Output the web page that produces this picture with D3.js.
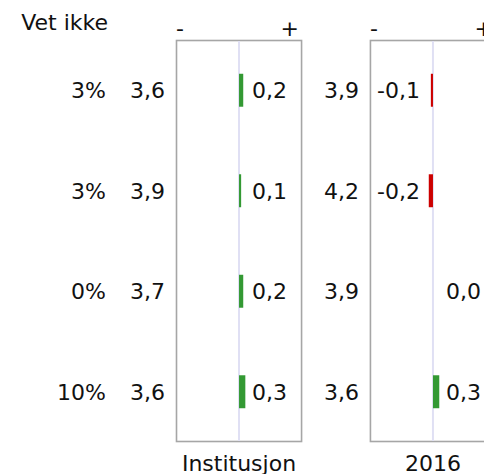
<!DOCTYPE html>
<meta charset="utf-8">
<title>Vet ikke</title>
<body>
<script src="https://cdn.jsdelivr.net/npm/d3@7"></script>
<style>
html, body {
    margin: 0;
    background: #fff;
}

svg text {
    font-family: Verdana, "DejaVu Sans", sans-serif;
    font-size: 22px;
    fill: #111;
}
</style>
<script>
var vetIkke = [3, 3, 0, 10];
var panels = ["Institusjon", "2016"];
var means = [[3.6, 3.9, 3.7, 3.6], [3.9, 4.2, 3.9, 3.6]];
var diffs = [[0.2, 0.1, 0.2, 0.3], [-0.1, -0.2, 0.0, 0.3]];

var width = 484,
    height = 474;

var svg = d3.select("body").append("svg")
    .attr("width", width)
    .attr("height", height);

// norwegian decimals, plain hyphen for minus
var fmt = function(v) {
    return d3.format(".1f")(v).replace(".", ",").replace("\u2212", "-");
};

var rows = d3.scaleBand()
    .domain(d3.range(vetIkke.length))
    .range([40, 442])
    .paddingInner(0.672)
    .paddingOuter(0.336);

var px = d3.scaleBand()
    .domain(panels)
    .range([176, 496])
    .paddingInner(0.35)
    .paddingOuter(0);

var rowMid = function(i) { return rows(i) + rows.bandwidth() / 2; };

svg.append("text")
    .attr("x", 108)
    .attr("y", 30)
    .attr("text-anchor", "end")
    .text("Vet ikke");

svg.selectAll(".vet")
    .data(vetIkke)
    .enter().append("text")
    .attr("class", "vet")
    .attr("x", 106)
    .attr("y", function(d, i) { return rowMid(i); })
    .attr("dy", "0.36em")
    .attr("text-anchor", "end")
    .text(function(d) { return d + "%"; });

var panel = svg.selectAll(".panel")
    .data(panels)
    .enter().append("g")
    .attr("class", "panel")
    .attr("transform", function(d) { return "translate(" + px(d) + ",0)"; });

panel.each(function(name, p) {
    var g = d3.select(this),
        w = px.bandwidth(),
        x = d3.scaleLinear().domain([-3, 3]).range([0, w]);

    g.append("rect")
        .attr("x", 0.5)
        .attr("y", rows.range()[0] + 0.5)
        .attr("width", w - 1)
        .attr("height", rows.range()[1] - rows.range()[0] - 1)
        .attr("fill", "none")
        .attr("stroke", "#a6a6a6")
        .attr("stroke-width", 1.6);

    g.append("line")
        .attr("x1", x(0))
        .attr("x2", x(0))
        .attr("y1", rows.range()[0] + 1)
        .attr("y2", rows.range()[1] - 1)
        .attr("stroke", "#e0e0f4")
        .attr("stroke-width", 2);

    g.append("text")
        .attr("x", 0)
        .attr("y", 36)
        .text("-");

    g.append("text")
        .attr("x", w - 3)
        .attr("y", 36)
        .attr("text-anchor", "end")
        .text("+");

    g.append("text")
        .attr("x", w / 2)
        .attr("y", 471)
        .attr("text-anchor", "middle")
        .text(name);

    g.selectAll(".mean")
        .data(means[p])
        .enter().append("text")
        .attr("class", "mean")
        .attr("x", -11)
        .attr("y", function(d, i) { return rowMid(i); })
        .attr("dy", "0.36em")
        .attr("text-anchor", "end")
        .text(fmt);

    g.selectAll(".bar")
        .data(diffs[p])
        .enter().append("rect")
        .attr("class", "bar")
        .attr("x", function(d) { return x(Math.min(0, d)); })
        .attr("y", function(d, i) { return rows(i); })
        .attr("width", function(d) { return Math.abs(x(d) - x(0)); })
        .attr("height", rows.bandwidth())
        .attr("fill", function(d) { return d < 0 ? "#cc0000" : "#339933"; });

    g.selectAll(".diff")
        .data(diffs[p])
        .enter().append("text")
        .attr("class", "diff")
        .attr("x", function(d) { return d < 0 ? x(0) - 13 : x(0) + 13; })
        .attr("y", function(d, i) { return rowMid(i); })
        .attr("dy", "0.36em")
        .attr("text-anchor", function(d) { return d < 0 ? "end" : "start"; })
        .text(fmt);
});
</script>
